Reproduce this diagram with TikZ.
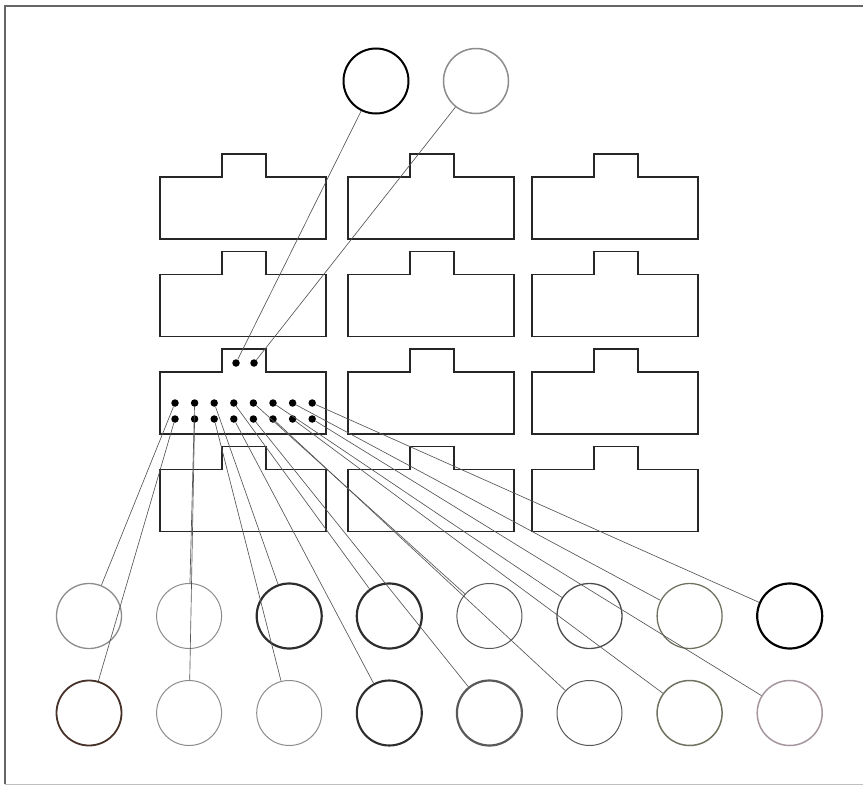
\documentclass[tikz,border=0pt]{standalone}
\usepackage{tikz}

\definecolor{rimgray}{RGB}{140,140,140}
\definecolor{rimdark}{RGB}{45,45,45}
\definecolor{rimbrown}{RGB}{70,50,40}
\definecolor{rimolive}{RGB}{110,115,95}
\definecolor{rimmauve}{RGB}{165,150,160}
\definecolor{leadgray}{RGB}{85,85,85}

\tikzset{
  box/.style={draw=black!85,line width=1.2pt},
  dot/.style={circle,fill=black,inner sep=0pt,minimum size=7.5pt},
  lead/.style={draw=leadgray,line width=0.65pt},
  jack/.style={circle,inner sep=0pt,minimum size=65pt},
}

\begin{document}
\begin{tikzpicture}[x=1pt,y=-1pt]
		\useasboundingbox (0,0) rectangle (863,787);
		\draw[black!60,line width=1.1pt] (863,6) -- (5,6) -- (5,784);
		\draw[black!25,line width=0.8pt] (5,784) -- (863,784);
		% the twelve sockets
		\foreach \bx in {160,348,532}
		\foreach \by in {177,274.5,372,469.5}
			\draw[box] (\bx,\by) -- ++(62,0) -- ++(0,-23) -- ++(44,0) -- ++(0,23) -- ++(60,0)
				-- ++(0,62) -- ++(-166,0) -- cycle;
		% pins of the used socket
		\node[dot] (s1) at (236,363) {};
		\node[dot] (s2) at (254,363) {};
		\foreach \i in {1,...,8} {
			\node[dot] (u\i) at ({175+19.6*(\i-1)},403) {};
			\node[dot] (l\i) at ({175+19.6*(\i-1)},419) {};
		}
		% top pair
		\node[jack,draw=black,line width=2pt] (p1) at (376,81) {};
		\node[jack,draw=rimgray,line width=1.5pt] (p2) at (476,81) {};
		% bottom rows
		\foreach \i/\c/\w in {1/rimgray/1.3,2/rimgray/1,3/rimdark/2.2,4/rimdark/2.2,
			5/rimdark!80/1,6/rimdark!85/1.3,7/rimolive/1.3,8/black/2.2}
			\node[jack,draw=\c,line width=\w pt] (a\i) at ({89+100.1*(\i-1)},616) {};
		\foreach \i/\c/\w in {1/rimbrown/1.8,2/rimgray/1,3/rimgray/1,4/rimdark/2.1,
			5/black!65/2.2,6/rimdark!80/1,7/rimolive/1.5,8/rimmauve/1.5}
			\node[jack,draw=\c,line width=\w pt] (b\i) at ({89+100.1*(\i-1)},713) {};
		% wiring
		\draw[lead] (s1) -- (p1);
		\draw[lead] (s2) -- (p2);
		\foreach \i in {1,...,8} {
			\draw[lead] (u\i) -- (a\i);
			\draw[lead] (l\i) -- (b\i);
		}
	\end{tikzpicture}
\end{document}
